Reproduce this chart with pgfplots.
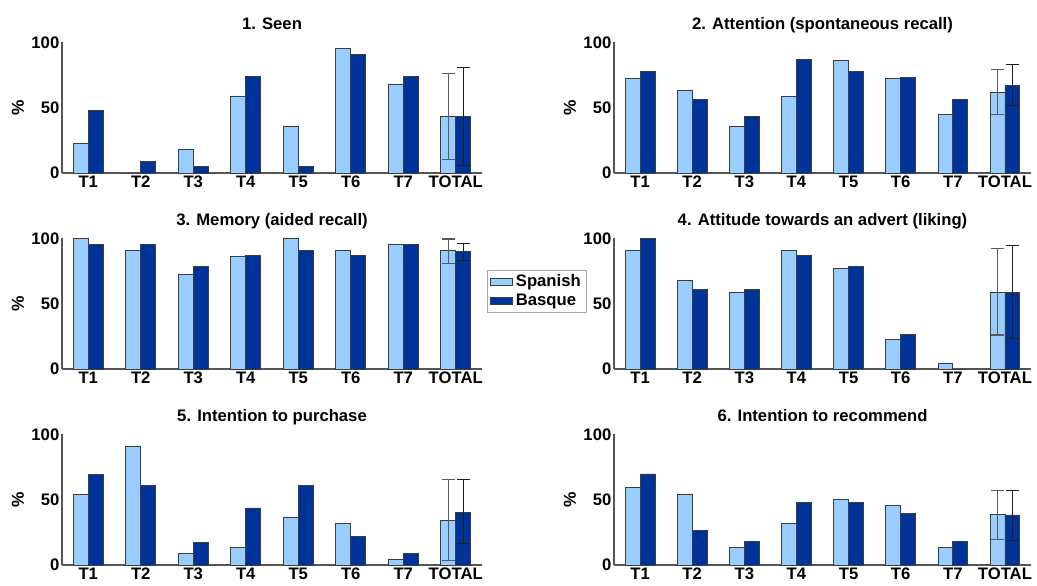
\documentclass[border=0pt]{standalone}
\usepackage{fontspec}
\setmainfont{Liberation Sans}
\usepackage{pgfplots}
\pgfplotsset{compat=1.18}
\definecolor{lightbar}{RGB}{153,204,255}
\definecolor{darkbar}{RGB}{0,51,153}
\definecolor{axgray}{RGB}{85,85,85}
\definecolor{edgegray}{RGB}{60,60,60}
\definecolor{errlight}{RGB}{90,90,90}
\definecolor{errdark}{RGB}{30,30,30}
\pgfplotsset{
 every axis title shift=0pt,
 panel/.style={
  scale only axis, width=315pt, height=98pt,
  xmin=0.5, xmax=8.5, ymin=0, ymax=100,
  axis x line*=bottom, axis y line*=left,
  axis line style={axgray, line width=0.9pt, -},
  xtick={1,...,8}, xticklabels={T1,T2,T3,T4,T5,T6,T7,TOTAL},
  ytick={0,50,100},
  major tick length=0pt,
  tick label style={font=\fontsize{12.5}{14}\selectfont\bfseries},
  yticklabel style={xshift=1.5pt},
  xticklabel style={yshift=1.2pt},
  /pgf/number format/assume math mode=true,
  title style={font=\fontsize{12.5}{14}\selectfont\bfseries, at={(0.5,1)}, anchor=base, yshift=10pt},
  ylabel={\%},
  ylabel style={font=\fontsize{13}{15}\selectfont\bfseries, at={([xshift=-33pt]axis description cs:0,0.5)}, anchor=center},
 },
 lightb/.style={ybar, bar width=0.286, bar shift=-0.143, fill=lightbar, draw=edgegray, line width=0.6pt, area legend},
 darkb/.style={ybar, bar width=0.286, bar shift=0.143, fill=darkbar, draw=edgegray, line width=0.6pt, area legend},
 errl/.style={forget plot, draw=none, mark=none, error bars/.cd, y dir=both, y explicit,
   error bar style={draw=errlight, line width=0.8pt},
   error mark options={rotate=90, mark size=5pt, draw=errlight, line width=0.8pt}},
 errd/.style={forget plot, draw=none, mark=none, error bars/.cd, y dir=both, y explicit,
   error bar style={draw=errdark, line width=0.8pt},
   error mark options={rotate=90, mark size=5pt, draw=errdark, line width=0.8pt}},
}
\begin{document}
\begin{tikzpicture}
% Panel 1
\begin{axis}[panel, at={(46.5pt,-132pt)}, anchor=south west, title={1. Seen}]
\addplot[lightb] coordinates {(1,23) (2,0) (3,18) (4,59) (5,36) (6,95) (7,68) (8,43)};
\addplot[darkb] coordinates {(1,48) (2,9) (3,5) (4,74) (5,5) (6,91) (7,74) (8,43.5)};
\addplot[errl] coordinates {(7.857,43) +- (0,33)};
\addplot[errd] coordinates {(8.143,43.3) +- (0,37.4)};
\end{axis}
% Panel 2
\begin{axis}[panel, width=312.75pt, at={(460.5pt,-132pt)}, anchor=south west, title={2. Attention (spontaneous recall)}]
\addplot[lightb] coordinates {(1,72.5) (2,63) (3,36) (4,58.7) (5,86) (6,72.5) (7,45) (8,61.5)};
\addplot[darkb] coordinates {(1,78) (2,56) (3,43.3) (4,86.6) (5,78) (6,73.2) (7,56) (8,67)};
\addplot[errl] coordinates {(7.857,62) +- (0,17)};
\addplot[errd] coordinates {(8.143,67.2) +- (0,15.6)};
\end{axis}
% Panel 4
\begin{axis}[panel, width=312.75pt, at={(460.5pt,-279pt)}, anchor=south west, title={4. Attitude towards an advert (liking)}, ylabel={}]
\addplot[lightb] coordinates {(1,91) (2,68) (3,58.7) (4,91) (5,77.2) (6,22.6) (7,4.6) (8,58.7)};
\addplot[darkb] coordinates {(1,100) (2,61) (3,61) (4,87) (5,78.2) (6,26.4) (7,0) (8,58.7)};
\addplot[errl] coordinates {(7.857,59) +- (0,33)};
\addplot[errd] coordinates {(8.143,58.9) +- (0,35.3)};
\end{axis}
% Panel 3
\begin{axis}[panel, at={(46.5pt,-279pt)}, anchor=south west, title={3. Memory (aided recall)},
  legend style={at={(1.011,0.759)}, anchor=north west, draw=gray!70, line width=0.6pt,
    font=\fontsize{12.5}{14}\selectfont\bfseries, inner xsep=2pt, inner ysep=1.5pt, row sep=0pt,
    cells={anchor=west}},
  legend image code/.code={\draw[#1,/tikz/.cd,sharp plot] (0pt,-6pt) rectangle (20pt,6pt);}]
\addplot[lightb] coordinates {(1,100) (2,91) (3,72.6) (4,86.2) (5,100) (6,91) (7,95.4) (8,91)};
\addplot[darkb] coordinates {(1,95.4) (2,95.4) (3,78.2) (4,86.9) (5,91) (6,87) (7,95.4) (8,89.7)};
\addplot[errl] coordinates {(7.857,90.3) +- (0,9.2)};
\addplot[errd] coordinates {(8.143,89.6) +- (0,6.8)};
\legend{Spanish, Basque}
\end{axis}
% Panel 5
\begin{axis}[panel, at={(46.5pt,-426pt)}, anchor=south west, title={5. Intention to purchase}]
\addplot[lightb] coordinates {(1,54.2) (2,90.8) (3,9) (4,13.3) (5,36.3) (6,31.7) (7,4.3) (8,34.3)};
\addplot[darkb] coordinates {(1,69.3) (2,60.9) (3,17.6) (4,43.7) (5,60.9) (6,21.7) (7,9) (8,40.4)};
\addplot[errl] coordinates {(7.857,34.5) +- (0,30.7)};
\addplot[errd] coordinates {(8.143,40.8) +- (0,24.4)};
\end{axis}
% Panel 6
\begin{axis}[panel, width=312.75pt, at={(460.5pt,-426pt)}, anchor=south west, title={6. Intention to recommend}]
\addplot[lightb] coordinates {(1,59.1) (2,54.2) (3,13.4) (4,32.1) (5,50.4) (6,45.8) (7,13.4) (8,38.8)};
\addplot[darkb] coordinates {(1,69.7) (2,26.5) (3,17.7) (4,47.8) (5,47.8) (6,39.3) (7,17.7) (8,38.3)};
\addplot[errl] coordinates {(7.857,38.5) +- (0,18.8)};
\addplot[errd] coordinates {(8.143,37.8) +- (0,19)};
\end{axis}
\pgfresetboundingbox
\path[use as bounding box] (0pt,-2.25pt) rectangle (777.75pt,-441pt);
\end{tikzpicture}
\end{document}
